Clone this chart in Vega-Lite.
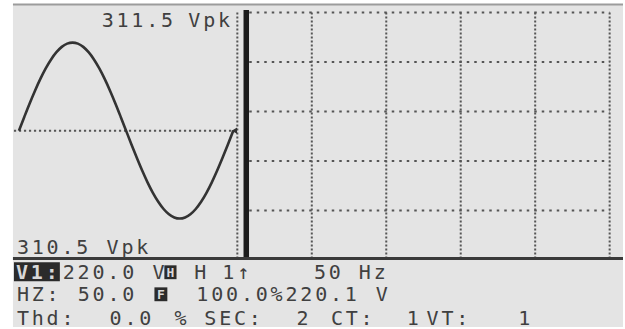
{
  "$schema": "https://vega.github.io/schema/vega-lite/v6.json",
  "width": 625,
  "height": 329,
  "autosize": {"type": "fit", "contains": "padding"},
  "padding": 0,
  "background": "#ffffff",
  "config": {"view": {"stroke": null}, "axis": {"disable": true}},
  "datasets": {
    "screen": [{"x": -0.4, "x2": 245.38, "y": -0.2, "y2": 130.12}],
    "bezel": [{"x": -0.4, "x2": 245.38, "y": -0.2}],
    "gridH": [
      {"x": 94.8, "x2": 240, "y": 3},
      {"x": 94.8, "x2": 240, "y": 23},
      {"x": 94.8, "x2": 240, "y": 43},
      {"x": 94.8, "x2": 240, "y": 63},
      {"x": 94.8, "x2": 240, "y": 83}
    ],
    "gridV": [
      {"x": 90, "y": 3, "y2": 102.2},
      {"x": 120, "y": 3, "y2": 102.2},
      {"x": 150, "y": 3, "y2": 102.2},
      {"x": 180, "y": 3, "y2": 102.2},
      {"x": 210, "y": 3, "y2": 102.2},
      {"x": 240, "y": 3, "y2": 102.2}
    ],
    "zero": [{"x": 0, "x2": 89.5, "y": 50.8}],
    "bar": [{"x": 93.6, "y": 2, "y2": 102.4}],
    "baseLine": [{"x": -0.4, "x2": 245.38, "y": 102.4}],
    "blocks": [
      {"x": 0, "x2": 18.5, "y": 104.0, "y2": 111.6},
      {"x": 60.6, "x2": 65.5, "y": 105.2, "y2": 110.8},
      {"x": 56.6, "x2": 61.8, "y": 114.1, "y2": 119.7}
    ],
    "chars": [
      {"x": 37.75, "y": 8.8, "ch": "3"}, {"x": 43.73, "y": 8.8, "ch": "1"}, {"x": 49.72, "y": 8.8, "ch": "1"}, {"x": 55.70, "y": 8.8, "ch": "."}, {"x": 61.69, "y": 8.8, "ch": "5"},
      {"x": 72.69, "y": 8.8, "ch": "V"}, {"x": 78.67, "y": 8.8, "ch": "p"}, {"x": 84.66, "y": 8.8, "ch": "k"},
      {"x": 3.61, "y": 100.8, "ch": "3"}, {"x": 9.60, "y": 100.8, "ch": "1"}, {"x": 15.58, "y": 100.8, "ch": "0"}, {"x": 21.57, "y": 100.8, "ch": "."}, {"x": 27.55, "y": 100.8, "ch": "5"},
      {"x": 39.76, "y": 100.8, "ch": "V"}, {"x": 45.74, "y": 100.8, "ch": "p"}, {"x": 51.73, "y": 100.8, "ch": "k"},
      {"x": 22.09, "y": 110.8, "ch": "2"}, {"x": 28.07, "y": 110.8, "ch": "2"}, {"x": 34.06, "y": 110.8, "ch": "0"}, {"x": 40.04, "y": 110.8, "ch": "."}, {"x": 46.02, "y": 110.8, "ch": "0"},
      {"x": 58.23, "y": 110.8, "ch": "V"}, {"x": 75.10, "y": 110.8, "ch": "H"}, {"x": 86.35, "y": 110.8, "ch": "1"}, {"x": 92.37, "y": 110.8, "ch": "↑"},
      {"x": 123.29, "y": 110.8, "ch": "5"}, {"x": 129.28, "y": 110.8, "ch": "0"}, {"x": 141.37, "y": 110.8, "ch": "H"}, {"x": 147.35, "y": 110.8, "ch": "z"},
      {"x": 3.61, "y": 119.7, "ch": "H"}, {"x": 9.60, "y": 119.7, "ch": "Z"}, {"x": 15.58, "y": 119.7, "ch": ":"},
      {"x": 28.11, "y": 119.7, "ch": "5"}, {"x": 34.10, "y": 119.7, "ch": "0"}, {"x": 40.08, "y": 119.7, "ch": "."}, {"x": 46.06, "y": 119.7, "ch": "0"},
      {"x": 75.90, "y": 119.7, "ch": "1"}, {"x": 81.89, "y": 119.7, "ch": "0"}, {"x": 87.87, "y": 119.7, "ch": "0"}, {"x": 93.86, "y": 119.7, "ch": "."}, {"x": 99.84, "y": 119.7, "ch": "0"}, {"x": 105.82, "y": 119.7, "ch": "%"},
      {"x": 111.81, "y": 119.7, "ch": "2"}, {"x": 117.79, "y": 119.7, "ch": "2"}, {"x": 123.78, "y": 119.7, "ch": "0"}, {"x": 129.76, "y": 119.7, "ch": "."}, {"x": 135.74, "y": 119.7, "ch": "1"},
      {"x": 148.19, "y": 119.7, "ch": "V"},
      {"x": 3.61, "y": 129.3, "ch": "T"}, {"x": 9.60, "y": 129.3, "ch": "h"}, {"x": 15.58, "y": 129.3, "ch": "d"}, {"x": 21.57, "y": 129.3, "ch": ":"},
      {"x": 40.96, "y": 129.3, "ch": "0"}, {"x": 46.95, "y": 129.3, "ch": "."}, {"x": 52.93, "y": 129.3, "ch": "0"},
      {"x": 67.07, "y": 129.3, "ch": "%"},
      {"x": 79.12, "y": 129.3, "ch": "S"}, {"x": 85.10, "y": 129.3, "ch": "E"}, {"x": 91.08, "y": 129.3, "ch": "C"}, {"x": 97.07, "y": 129.3, "ch": ":"},
      {"x": 116.27, "y": 129.3, "ch": "2"},
      {"x": 130.12, "y": 129.3, "ch": "C"}, {"x": 136.10, "y": 129.3, "ch": "T"}, {"x": 142.09, "y": 129.3, "ch": ":"},
      {"x": 160.64, "y": 129.3, "ch": "1"},
      {"x": 168.67, "y": 129.3, "ch": "V"}, {"x": 174.66, "y": 129.3, "ch": "T"}, {"x": 180.64, "y": 129.3, "ch": ":"},
      {"x": 205.62, "y": 129.3, "ch": "1"}
    ],
    "inverse": [
      {"x": 3.21, "y": 110.8, "ch": "V"}, {"x": 9.24, "y": 110.8, "ch": "1"}, {"x": 15.26, "y": 110.8, "ch": ":"}
    ],
    "icons": [
      {"x": 63.05, "y": 110.0, "ch": "H"},
      {"x": 59.2, "y": 118.9, "ch": "F"}
    ],
    "wave": [
      {"t": 0, "v": 0}, {"t": 0.5, "v": 48.7}, {"t": 1, "v": 96.3}, {"t": 1.5, "v": 141.4},
      {"t": 2, "v": 183.1}, {"t": 2.5, "v": 220.3}, {"t": 3, "v": 252.0}, {"t": 3.5, "v": 277.5},
      {"t": 4, "v": 296.3}, {"t": 4.5, "v": 307.7}, {"t": 5, "v": 311.5}, {"t": 5.5, "v": 307.7},
      {"t": 6, "v": 296.3}, {"t": 6.5, "v": 277.5}, {"t": 7, "v": 252.0}, {"t": 7.5, "v": 220.3},
      {"t": 8, "v": 183.1}, {"t": 8.5, "v": 141.4}, {"t": 9, "v": 96.3}, {"t": 9.5, "v": 48.7},
      {"t": 10, "v": 0}, {"t": 10.5, "v": -48.6}, {"t": 11, "v": -95.9}, {"t": 11.5, "v": -141.0},
      {"t": 12, "v": -182.5}, {"t": 12.5, "v": -219.6}, {"t": 13, "v": -251.2}, {"t": 13.5, "v": -276.7},
      {"t": 14, "v": -295.3}, {"t": 14.5, "v": -306.7}, {"t": 15, "v": -310.5}, {"t": 15.5, "v": -306.7},
      {"t": 16, "v": -295.3}, {"t": 16.5, "v": -276.7}, {"t": 17, "v": -251.2}, {"t": 17.5, "v": -219.6},
      {"t": 18, "v": -182.5}, {"t": 18.5, "v": -141.0}, {"t": 19, "v": -95.9}, {"t": 19.5, "v": -48.6},
      {"t": 20, "v": 0}
    ],
    "cursor": [{"t": 20.1, "v": 0}]
  },
  "layer": [
    {
      "encoding": {
        "x": {"field": "x", "type": "quantitative", "axis": null, "scale": {"domain": [-5.62, 245.38], "nice": false, "zero": false}},
        "y": {"field": "y", "type": "quantitative", "axis": null, "scale": {"domain": [-2.01, 130.12], "nice": false, "zero": false, "reverse": true}}
      },
      "layer": [
        {"data": {"name": "screen"}, "mark": {"type": "rect", "color": "#e4e4e4"}, "encoding": {"x2": {"field": "x2"}, "y2": {"field": "y2"}}},
        {"data": {"name": "bezel"}, "mark": {"type": "rule", "color": "#9c9c9c", "strokeWidth": 2}, "encoding": {"x2": {"field": "x2"}}},
        {"data": {"name": "gridH"}, "mark": {"type": "rule", "color": "#555555", "strokeWidth": 2, "strokeDash": [2.5, 5]}, "encoding": {"x2": {"field": "x2"}}},
        {"data": {"name": "gridV"}, "mark": {"type": "rule", "color": "#555555", "strokeWidth": 2, "strokeDash": [2, 2]}, "encoding": {"y2": {"field": "y2"}}},
        {"data": {"name": "zero"}, "mark": {"type": "rule", "color": "#555555", "strokeWidth": 2, "strokeDash": [2.2, 2.8]}, "encoding": {"x2": {"field": "x2"}}},
        {"data": {"name": "bar"}, "mark": {"type": "rule", "color": "#1c1c1c", "strokeWidth": 5.5}, "encoding": {"y2": {"field": "y2"}}},
        {"data": {"name": "baseLine"}, "mark": {"type": "rule", "color": "#3a3a3a", "strokeWidth": 3}, "encoding": {"x2": {"field": "x2"}}},
        {"data": {"name": "blocks"}, "mark": {"type": "rect", "color": "#2b2b2b"}, "encoding": {"x2": {"field": "x2"}, "y2": {"field": "y2"}}},
        {"data": {"name": "chars"}, "mark": {"type": "text", "font": "DejaVu Sans Mono", "fontSize": 20, "color": "#404040", "align": "center", "baseline": "alphabetic"}, "encoding": {"text": {"field": "ch"}}},
        {"data": {"name": "inverse"}, "mark": {"type": "text", "font": "DejaVu Sans Mono", "fontSize": 20, "fontWeight": "bold", "color": "#d8d8d8", "align": "center", "baseline": "alphabetic"}, "encoding": {"text": {"field": "ch"}}},
        {"data": {"name": "icons"}, "mark": {"type": "text", "font": "DejaVu Sans Mono", "fontSize": 13, "fontWeight": "bold", "color": "#d8d8d8", "align": "center", "baseline": "alphabetic"}, "encoding": {"text": {"field": "ch"}}}
      ]
    },
    {
      "encoding": {
        "x": {"field": "t", "type": "quantitative", "axis": null, "scale": {"domain": [-1.767, 56.37], "nice": false, "zero": false}},
        "y": {"field": "v", "type": "quantitative", "axis": null, "scale": {"domain": [-693.9, 462.0], "nice": false, "zero": false}}
      },
      "layer": [
        {"data": {"name": "wave"}, "mark": {"type": "line", "color": "#333333", "strokeWidth": 2.6, "interpolate": "monotone"}},
        {"data": {"name": "cursor"}, "mark": {"type": "point", "shape": "triangle-left", "filled": true, "color": "#333333", "size": 40, "opacity": 1}}
      ]
    }
  ],
  "resolve": {"scale": {"x": "independent", "y": "independent"}}
}
